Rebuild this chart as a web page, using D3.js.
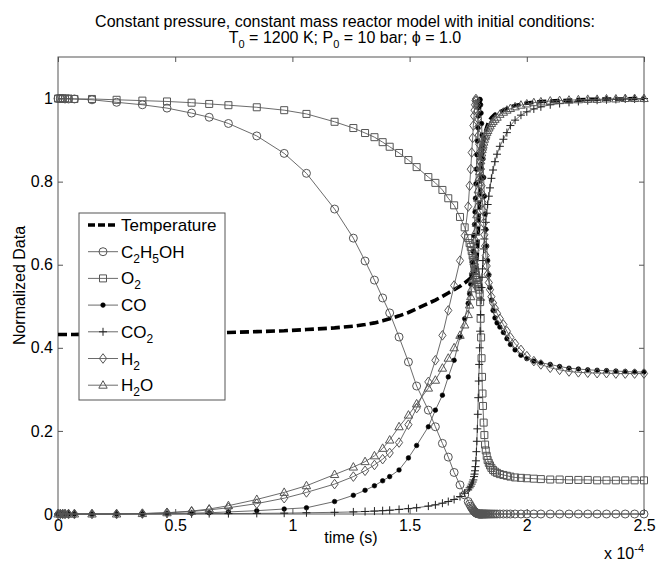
<!DOCTYPE html>
<html><head><meta charset="utf-8">
<script src="https://cdn.jsdelivr.net/npm/d3@7"></script>
<style>body{margin:0;background:#fff}svg{display:block;font-family:"Liberation Sans",Arial,sans-serif}</style>
</head><body><svg id="c" width="657" height="561"></svg>
<script>
// time in units of 1e-4 s
const time = [0,0.01,0.02,0.03,0.045,0.07,0.145,0.25,0.36,0.465,0.57,0.645,0.727,0.848,0.965,1.06,1.18,1.26,1.31,1.35,1.385,1.415,1.455,1.495,1.53,1.58,1.61,1.64,1.665,1.69,1.715,1.735,
  1.75,1.756,1.761,1.765,1.769,1.772,1.775,1.777,1.779,1.781,1.783,1.785,1.787,1.789,1.791,1.793,1.795,1.797,1.799,1.801,1.803,1.805,1.807,1.809,1.811,1.813,1.816,1.819,1.822,1.825,1.829,1.833,1.838,1.843,1.849,1.856,1.864,1.873,
  1.885,1.9,1.915,1.93,1.95,1.975,2.0,2.03,2.06,2.10,2.14,2.18,2.22,2.26,2.30,2.34,2.38,2.42,2.46,2.5];
const temperature = [0.432,0.432,0.432,0.432,0.432,0.432,0.433,0.433,0.434,0.434,0.435,0.436,0.437,0.439,0.441,0.444,0.448,0.452,0.456,0.460,0.465,0.470,0.477,0.485,0.494,0.507,0.515,0.524,0.532,0.540,0.548,0.556,
  0.563,0.566,0.568,0.571,0.574,0.576,0.579,0.581,0.584,0.588,0.593,0.600,0.612,0.628,0.650,0.676,0.703,0.730,0.757,0.783,0.810,0.831,0.848,0.863,0.875,0.886,0.897,0.908,0.917,0.923,0.931,0.938,0.944,0.949,0.954,0.958,0.962,0.965,
  0.968,0.972,0.976,0.98,0.983,0.986,0.989,0.991,0.993,0.994,0.995,0.996,0.997,0.998,0.998,0.999,0.999,0.999,1.0,1.0];
const ethanol = [1.0,1.0,1.0,0.999,0.999,0.999,0.997,0.991,0.985,0.977,0.965,0.955,0.94,0.91,0.868,0.82,0.734,0.664,0.609,0.563,0.52,0.484,0.426,0.366,0.308,0.25,0.21,0.17,0.137,0.1,0.07,0.046,
  0.03,0.024,0.019,0.015,0.012,0.009,0.007,0.006,0.005,0.004,0.003,0.002,0.0015,0.001,0.0007,0.0005,0,0,0,0,0,0,0,0,0,0,0,0,0,0,0,0,0,0,0,0,0,0,
  0,0,0,0,0,0,0,0,0,0,0,0,0,0,0,0,0,0,0,0];
const oxygen = [1.0,1.0,1.0,1.0,1.0,0.999,0.999,0.997,0.995,0.993,0.99,0.987,0.984,0.979,0.972,0.963,0.944,0.929,0.917,0.907,0.895,0.884,0.869,0.852,0.835,0.811,0.797,0.78,0.76,0.743,0.715,0.69,
  0.664,0.652,0.643,0.633,0.622,0.612,0.602,0.595,0.587,0.581,0.575,0.568,0.563,0.558,0.554,0.55,0.546,0.54,0.53,0.51,0.47,0.425,0.375,0.33,0.29,0.26,0.22,0.19,0.167,0.153,0.14,0.13,0.123,0.117,0.111,0.106,0.102,0.099,
  0.096,0.094,0.092,0.09,0.088,0.087,0.086,0.085,0.084,0.083,0.083,0.082,0.082,0.082,0.081,0.081,0.081,0.081,0.081,0.081];
const co = [0,0,0,0,0,0,0,0,0.0005,0.001,0.002,0.003,0.005,0.008,0.012,0.015,0.03,0.045,0.057,0.068,0.08,0.09,0.106,0.135,0.165,0.21,0.25,0.286,0.33,0.37,0.426,0.47,
  0.507,0.53,0.553,0.575,0.605,0.632,0.67,0.697,0.727,0.76,0.795,0.83,0.865,0.898,0.93,0.958,0.978,0.99,0.998,0.997,0.985,0.965,0.94,0.912,0.885,0.855,0.81,0.765,0.722,0.685,0.645,0.61,0.575,0.545,0.515,0.49,0.472,0.46,
  0.45,0.437,0.422,0.408,0.395,0.382,0.374,0.368,0.364,0.36,0.355,0.351,0.349,0.347,0.346,0.345,0.344,0.343,0.342,0.342];
const co2 = [0,0,0,0,0,0,0,0,0,0,0.0005,0.001,0.001,0.0015,0.002,0.003,0.004,0.005,0.006,0.007,0.008,0.009,0.011,0.013,0.015,0.019,0.022,0.026,0.03,0.035,0.042,0.05,
  0.058,0.063,0.067,0.072,0.077,0.082,0.09,0.096,0.104,0.114,0.128,0.15,0.175,0.205,0.24,0.28,0.32,0.36,0.4,0.44,0.48,0.515,0.545,0.57,0.59,0.61,0.638,0.662,0.684,0.702,0.724,0.745,0.765,0.785,0.808,0.828,0.848,0.866,
  0.885,0.902,0.918,0.935,0.948,0.96,0.968,0.975,0.98,0.985,0.988,0.991,0.993,0.995,0.996,0.997,0.998,0.999,0.999,1.0];
const h2 = [0,0,0,0,0,0,0,0,0.001,0.003,0.006,0.01,0.015,0.025,0.038,0.052,0.072,0.09,0.104,0.118,0.132,0.147,0.172,0.215,0.255,0.318,0.37,0.43,0.49,0.55,0.61,0.67,
  0.74,0.79,0.83,0.87,0.905,0.935,0.958,0.972,0.985,0.995,0.999,0.995,0.985,0.97,0.952,0.932,0.912,0.89,0.87,0.85,0.83,0.81,0.79,0.77,0.75,0.73,0.7,0.672,0.645,0.622,0.597,0.577,0.557,0.54,0.523,0.508,0.495,0.483,
  0.47,0.456,0.44,0.425,0.41,0.395,0.38,0.368,0.36,0.352,0.347,0.343,0.341,0.34,0.339,0.339,0.338,0.338,0.338,0.338];
const h2o = [0,0,0,0,0,0,0,0,0.001,0.003,0.007,0.012,0.02,0.035,0.052,0.068,0.095,0.113,0.126,0.14,0.158,0.178,0.21,0.238,0.265,0.303,0.322,0.351,0.375,0.40,0.43,0.455,
  0.48,0.503,0.523,0.542,0.565,0.585,0.607,0.622,0.64,0.66,0.68,0.70,0.72,0.74,0.76,0.78,0.797,0.81,0.824,0.837,0.85,0.86,0.869,0.877,0.883,0.888,0.895,0.902,0.908,0.912,0.918,0.923,0.929,0.934,0.94,0.945,0.95,0.955,
  0.962,0.967,0.972,0.976,0.98,0.984,0.987,0.99,0.992,0.994,0.995,0.996,0.997,0.998,0.998,0.999,0.999,1.0,1.0,1.0];

const xTicks = [0,0.5,1,1.5,2,2.5];
const xTickLabels = ["0","0.5","1","1.5","2","2.5"];
const yTicks = [0,0.2,0.4,0.6,0.8,1];
const yTickLabels = ["0","0.2","0.4","0.6","0.8","1"];

[temperature,ethanol,oxygen,co,co2,h2,h2o].forEach((a,i)=>{ if(a.length!==time.length) throw new Error("length mismatch "+i+": "+a.length+" vs "+time.length); });

const svg = d3.select("#c");
const L=58, R=644, T=57, B=514;
const x = d3.scaleLinear().domain([0,2.5]).range([L,R]);
const y = d3.scaleLinear().domain([0,1.1]).range([B,T]);
const axisColor = "#555";

svg.append("rect").attr("x",L).attr("y",T).attr("width",R-L).attr("height",B-T)
  .attr("fill","#fff").attr("stroke",axisColor).attr("stroke-width",1);

function styleAxis(g, labels){
  g.select(".domain").remove();
  g.selectAll(".tick line").attr("stroke",axisColor);
  g.selectAll(".tick text").attr("fill","#000").style("font-size","16px").style("font-family","Liberation Sans, Arial, sans-serif");
  if(!labels) g.selectAll(".tick text").remove();
}
svg.append("g").attr("transform",`translate(0,${B})`)
  .call(d3.axisBottom(x).tickValues(xTicks).tickFormat((d,i)=>xTickLabels[i]).tickSizeInner(-5).tickSizeOuter(0).tickPadding(6))
  .call(g=>styleAxis(g,true));
svg.append("g").attr("transform",`translate(0,${T})`)
  .call(d3.axisTop(x).tickValues(xTicks).tickSizeInner(-5).tickSizeOuter(0))
  .call(g=>styleAxis(g,false));
svg.append("g").attr("transform",`translate(${L},0)`)
  .call(d3.axisLeft(y).tickValues(yTicks).tickFormat((d,i)=>yTickLabels[i]).tickSizeInner(-5).tickSizeOuter(0).tickPadding(5))
  .call(g=>styleAxis(g,true));
svg.append("g").attr("transform",`translate(${R},0)`)
  .call(d3.axisRight(y).tickValues(yTicks).tickSizeInner(-5).tickSizeOuter(0))
  .call(g=>styleAxis(g,false));

const shapes = {
  circle: "M4,0A4,4 0 1,1 -4,0A4,4 0 1,1 4,0Z",
  square: "M-3.5,-3.5H3.5V3.5H-3.5Z",
  dot: "M2.3,0A2.3,2.3 0 1,1 -2.3,0A2.3,2.3 0 1,1 2.3,0Z",
  plus: "M-4,0H4M0,-4V4",
  diamond: "M0,-4.8L3.6,0L0,4.8L-3.6,0Z",
  triangle: "M0,-4.5L4.2,3L-4.2,3Z"
};
const lineColor = "#5a5a5a";
const series = [
  {name:"Temperature", vals:temperature, marker:null},
  {name:"C2H5OH", vals:ethanol, marker:"circle"},
  {name:"O2", vals:oxygen, marker:"square"},
  {name:"CO", vals:co, marker:"dot"},
  {name:"CO2", vals:co2, marker:"plus"},
  {name:"H2", vals:h2, marker:"diamond"},
  {name:"H2O", vals:h2o, marker:"triangle"}
];
function markerStyle(sel, m){
  if(m==="dot") sel.attr("fill","#000").attr("stroke","#000").attr("stroke-width",0.6);
  else if(m==="plus") sel.attr("fill","none").attr("stroke","#222").attr("stroke-width",1);
  else sel.attr("fill","none").attr("stroke","#555").attr("stroke-width",1);
}
const line = d3.line().x(d=>x(d[0])).y(d=>y(d[1]));
const plot = svg.append("g");
series.forEach(s=>{
  const pts = time.map((t,i)=>[t,s.vals[i]]);
  if(!s.marker){
    plot.append("path").datum(pts).attr("d",line).attr("fill","none")
      .attr("stroke","#000").attr("stroke-width",3.6).attr("stroke-dasharray","9,4");
  } else {
    plot.append("path").datum(pts).attr("d",line).attr("fill","none")
      .attr("stroke",lineColor).attr("stroke-width",0.9);
    plot.append("g").selectAll("path").data(pts).join("path")
      .attr("transform",d=>`translate(${x(d[0])},${y(d[1])})`)
      .attr("d",shapes[s.marker]).call(sel=>markerStyle(sel,s.marker));
  }
});

// legend
const lg = svg.append("g");
lg.append("rect").attr("x",79).attr("y",213).attr("width",146).attr("height",187)
  .attr("fill","#fff").attr("stroke",axisColor).attr("stroke-width",1);
const legendLabels = [
  [["Temperature",0]],
  [["C",0],["2",1],["H",0],["5",1],["OH",0]],
  [["O",0],["2",1]],
  [["CO",0]],
  [["CO",0],["2",1]],
  [["H",0],["2",1]],
  [["H",0],["2",1],["O",0]]
];
series.forEach((s,i)=>{
  const cy = 225 + i*26.7;
  if(!s.marker){
    lg.append("line").attr("x1",88).attr("x2",118).attr("y1",cy).attr("y2",cy)
      .attr("stroke","#000").attr("stroke-width",3.6).attr("stroke-dasharray","7,3");
  } else {
    lg.append("line").attr("x1",88).attr("x2",118).attr("y1",cy).attr("y2",cy)
      .attr("stroke",lineColor).attr("stroke-width",0.9);
    lg.append("path").attr("transform",`translate(103,${cy})`).attr("d",shapes[s.marker])
      .call(sel=>markerStyle(sel,s.marker));
  }
  const txt = lg.append("text").attr("x",121).attr("y",cy+6).style("font-size","17px").attr("fill","#000");
  let sub=false;
  legendLabels[i].forEach(([str,isSub])=>{
    const ts = txt.append("tspan").text(str);
    if(isSub && !sub){ ts.attr("dy",5).style("font-size","12px"); sub=true; }
    else if(isSub && sub){ ts.style("font-size","12px"); }
    else if(!isSub && sub){ ts.attr("dy",-5); sub=false; }
  });
});

// title
const tx = 345;
svg.append("text").attr("x",tx).attr("y",27).attr("text-anchor","middle").style("font-size","16px")
  .text("Constant pressure, constant mass reactor model with initial conditions:");
const t2 = svg.append("text").attr("x",tx).attr("y",43).attr("text-anchor","middle").style("font-size","16px");
t2.append("tspan").text("T");
t2.append("tspan").text("0").attr("dy",5).style("font-size","11px");
t2.append("tspan").text(" = 1200 K; P").attr("dy",-5);
t2.append("tspan").text("0").attr("dy",5).style("font-size","11px");
t2.append("tspan").text(" = 10 bar; \u03D5 = 1.0").attr("dy",-5);

// axis labels
svg.append("text").attr("x",(L+R)/2).attr("y",543).attr("text-anchor","middle").style("font-size","16px").text("time (s)");
svg.append("text").attr("transform",`translate(25,${(T+B)/2}) rotate(-90)`).attr("text-anchor","middle").style("font-size","16px").text("Normalized Data");
const ex = svg.append("text").attr("x",644).attr("y",559).attr("text-anchor","end").style("font-size","16px");
ex.append("tspan").text("x 10");
ex.append("tspan").text("-4").attr("dy",-7).style("font-size","11px");
</script></body></html>
